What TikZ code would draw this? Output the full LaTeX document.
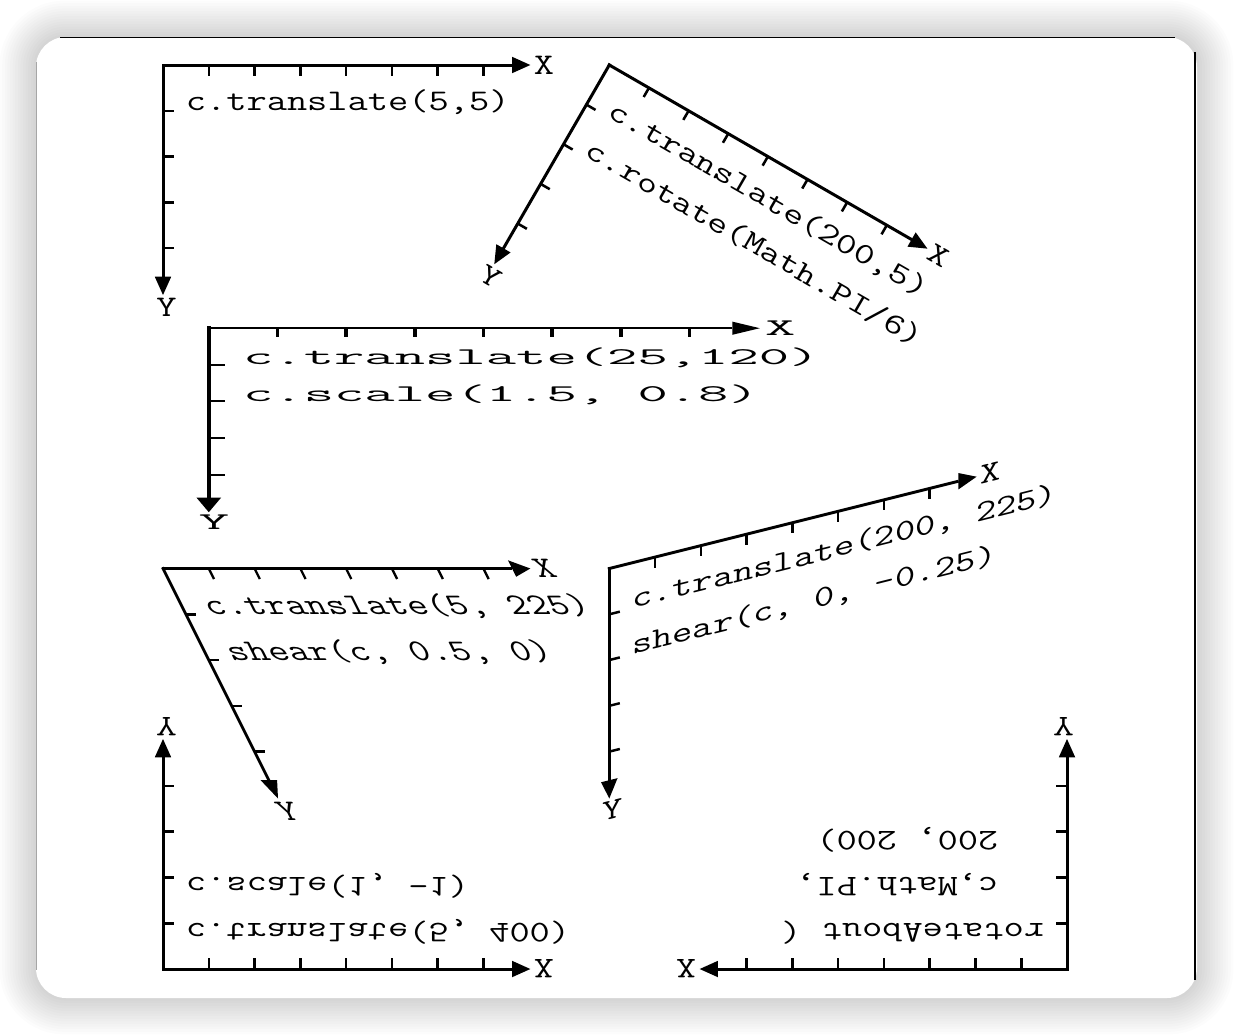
\documentclass[tikz,border=0pt]{standalone}
\newcommand\frameaxes[3]{%
  \draw[line width=#2, line cap=rect] (0,0) -- (152,0);
  \draw[line width=#3, line cap=rect] (0,0) -- (0,93);
  \fill (160.5,0) -- (152.5,-3.6) -- (152.5,3.6) -- cycle;
  \fill (0,100.5) -- (-3.6,92.5) -- (3.6,92.5) -- cycle;
  \foreach \k in {20,40,...,140} {\draw[line width=0.85*#3] (\k,0) -- (\k,4.6);}
  \foreach \k in {20,40,60,80} {\draw[line width=0.85*#2] (0,\k) -- (4.6,\k);}
  \node[axlabel] (#1x) at (166.5,4) {X};
  \node[axlabel] (#1y) at (1.5,110) {Y};
}
\begin{document}
\begin{tikzpicture}[x=1pt,y=1pt,
  ctext/.style={transform shape, xscale=1.31, yscale=-1, inner sep=0pt, outer sep=0pt,
    anchor=base west, font=\ttfamily\fontsize{13.1}{15}\selectfont},
  axlabel/.style={ctext, anchor=base}]
\useasboundingbox (0,0) rectangle (1236,-1034);
\fill[white] (0,0) rectangle (1236,-1034);
% soft shadow around the card
\foreach \i in {1,...,14}{
  \fill[black, opacity=0.011, rounded corners=30+2.5*\i]
    (36-2.6*\i,-37+2.6*\i) rectangle (1197+2.6*\i,-998-2.6*\i);
}
\fill[white, rounded corners=30] (36,-37) rectangle (1197,-998);
\draw[line width=1.3] (60,-37.5) -- (1175,-37.5);
\draw[line width=1.3] (1195,-52) -- (1195,-980);
\draw[line width=1, black!35] (36.5,-62) -- (36.5,-970);

% frame 1: translate(5,5)
\begin{scope}[cm={2.2886,0,0,-2.2886,(163,-65)}]
  \frameaxes{a}{3pt}{3pt}
  \node[ctext] (a1) at (10,20) {c.translate(5,5)};
\end{scope}

% frame 2: translate(200,5) rotate(pi/6)
\begin{scope}[cm={1.9820,-1.1443,-1.1443,-1.9820,(609.3,-65)}]
  \frameaxes{b}{3pt}{3pt}
  \node[ctext] (b1) at (10,20) {c.translate(200,5)};
  \node[ctext] (b2) at (10,40) {c.rotate(Math.PI/6)};
\end{scope}

% frame 3: translate(25,120) scale(1.5,0.8)
\begin{scope}[cm={3.4329,0,0,-1.8309,(208.8,-328.2)}]
  \frameaxes{c}{2.4pt}{4.5pt}
  \node[ctext] (c1) at (10,20) {c.translate(25,120)};
  \node[ctext] (c2) at (10,40) {c.scale(1.5, 0.8)};
\end{scope}

% frame 4: translate(5,225) shear(0.5,0)
\begin{scope}[cm={2.2886,0,1.1443,-2.2886,(163,-568.5)}]
  \frameaxes{d}{3pt}{2.7pt}
  \node[ctext] (d1) at (10,20) {c.translate(5, 225)};
  \node[ctext] (d2) at (10,40) {shear(c, 0.5, 0)};
\end{scope}

% frame 5: translate(200,225) shear(0,-0.25)
\begin{scope}[cm={2.2886,0.57215,0,-2.2886,(609.3,-568.5)}]
  \frameaxes{e}{2.9pt}{3pt}
  \node[ctext] (e1) at (10,20) {c.translate(200, 225)};
  \node[ctext] (e2) at (10,40) {shear(c, 0, -0.25)};
\end{scope}

% frame 6: translate(5,400) scale(1,-1)
\begin{scope}[cm={2.2886,0,0,2.2886,(163,-969)}]
  \frameaxes{f}{3pt}{3pt}
  \node[ctext] (f1) at (10,20) {c.translate(5, 400)};
  \node[ctext] (f2) at (10,40) {c.scale(1, -1)};
\end{scope}

% frame 7: rotateAbout(c, PI, 200, 200)
\begin{scope}[cm={-2.2886,0,0,2.2886,(1067,-969)}]
  \frameaxes{g}{3pt}{3pt}
  \node[ctext] (g1) at (10,20) {rotateAbout (};
  \node[ctext] (g2) at (30,40) {c,Math.PI,};
  \node[ctext] (g3) at (30,60) {200, 200)};
\end{scope}
\end{tikzpicture}
\end{document}
